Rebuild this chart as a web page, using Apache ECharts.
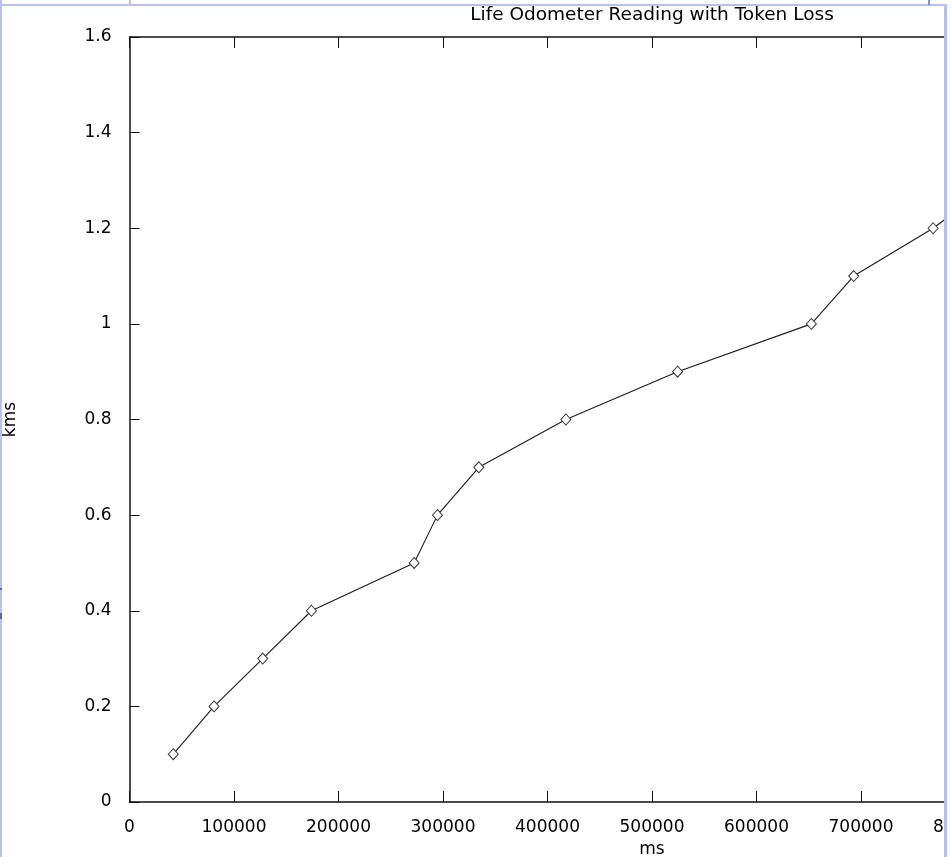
<!DOCTYPE html>
<html>
<head>
<meta charset="utf-8">
<script src="https://cdn.jsdelivr.net/npm/echarts@6/dist/echarts.min.js"></script>
<style>
html,body{margin:0;padding:0;background:#fff;}
#chart{width:952px;height:857px;}
</style>
</head>
<body>
<div id="chart"></div>
<script>
// Data
const titleText = 'Life Odometer Reading with Token Loss';
const xName = 'ms';
const yName = 'kms';
const timeMs = [41900, 80900, 127500, 174100, 272400, 294700, 334300, 417600, 524500, 652500, 693000, 769000, 830500];
const distanceKms = [0.1, 0.2, 0.3, 0.4, 0.5, 0.6, 0.7, 0.8, 0.9, 1.0, 1.1, 1.2, 1.3];
const xMin = 0, xMax = 1000000, xStep = 100000;
const yMin = 0, yMax = 1.6, yStep = 0.2;

const points = timeMs.map((t, i) => [t, distanceKms[i]]);

const font = 'DejaVu Sans';
const axisColor = '#111';
const labelStyle = { color: '#000', fontFamily: font, fontSize: 17, formatter: v => String(v) };

const chart = echarts.init(document.getElementById('chart'), null, { renderer: 'canvas' });
const borderBlue = '#b6bef2';
const darkBlue = '#7d89ee';

chart.setOption({
  backgroundColor: '#ffffff',
  animation: false,
  title: {
    text: titleText,
    left: 647,
    top: 1,
    textAlign: 'center',
    textStyle: { color: '#000', fontFamily: font, fontSize: 18.5, fontWeight: 'normal' }
  },
  grid: { left: 129.5, width: 1045, top: 37, bottom: 55, containLabel: false, outerBoundsMode: 'none' },
  xAxis: [{
    type: 'value', min: xMin, max: xMax, interval: xStep, position: 'bottom',
    name: xName, nameLocation: 'middle', nameGap: 39,
    nameTextStyle: { color: '#000', fontFamily: font, fontSize: 17 },
    axisLine: { show: true, onZero: false, lineStyle: { color: axisColor, width: 1.5 } },
    axisTick: { show: true, inside: true, length: 11, lineStyle: { color: axisColor, width: 1 } },
    axisLabel: Object.assign({ margin: 17 }, labelStyle),
    splitLine: { show: false }
  }, {
    type: 'value', min: xMin, max: xMax, interval: xStep, position: 'top',
    axisLine: { show: true, onZero: false, lineStyle: { color: axisColor, width: 1.5 } },
    axisTick: { show: true, inside: true, length: 11, lineStyle: { color: axisColor, width: 1 } },
    axisLabel: { show: false },
    splitLine: { show: false }
  }],
  yAxis: [{
    type: 'value', min: yMin, max: yMax, interval: yStep, position: 'left',
    name: yName, nameLocation: 'middle', nameGap: 110,
    nameTextStyle: { color: '#000', fontFamily: font, fontSize: 17 },
    axisLine: { show: true, onZero: false, lineStyle: { color: axisColor, width: 1.5 } },
    axisTick: { show: true, inside: true, length: 10, lineStyle: { color: axisColor, width: 1 } },
    axisLabel: Object.assign({ margin: 18 }, labelStyle),
    splitLine: { show: false }
  }, {
    type: 'value', min: yMin, max: yMax, interval: yStep, position: 'right',
    axisLine: { show: true, onZero: false, lineStyle: { color: axisColor, width: 1.5 } },
    axisTick: { show: true, inside: true, length: 10, lineStyle: { color: axisColor, width: 1 } },
    axisLabel: { show: false },
    splitLine: { show: false }
  }],
  series: [{
    type: 'line',
    data: points,
    xAxisIndex: 0,
    yAxisIndex: 0,
    symbol: 'diamond',
    symbolSize: [10, 11],
    showAllSymbol: true,
    lineStyle: { color: '#1a1a1a', width: 1.1 },
    itemStyle: { color: '#fff', borderColor: '#333', borderWidth: 1 },
    emphasis: { disabled: true },
    clip: false,
    z: 3
  }],
  graphic: [
    { type: 'rect', shape: { x: 947, y: 0, width: 5, height: 857 }, style: { fill: '#ffffff' }, silent: true, z: 100 },
    { type: 'rect', shape: { x: 0, y: 0, width: 2, height: 857 }, style: { fill: borderBlue }, silent: true, z: 101 },
    { type: 'rect', shape: { x: 0, y: 4, width: 947, height: 2 }, style: { fill: borderBlue }, silent: true, z: 101 },
    { type: 'rect', shape: { x: 944, y: 4, width: 3, height: 853 }, style: { fill: borderBlue }, silent: true, z: 101 },
    { type: 'rect', shape: { x: 129, y: 0, width: 2, height: 5 }, style: { fill: borderBlue }, silent: true, z: 101 },
    { type: 'rect', shape: { x: 928, y: 0, width: 2, height: 5 }, style: { fill: darkBlue }, silent: true, z: 101 },
    { type: 'rect', shape: { x: 0, y: 588, width: 2, height: 2 }, style: { fill: '#5a63b8' }, silent: true, z: 101 },
    { type: 'rect', shape: { x: 0, y: 613, width: 2, height: 6 }, style: { fill: '#5a63b8' }, silent: true, z: 101 }
  ]
});
</script>
</body>
</html>
